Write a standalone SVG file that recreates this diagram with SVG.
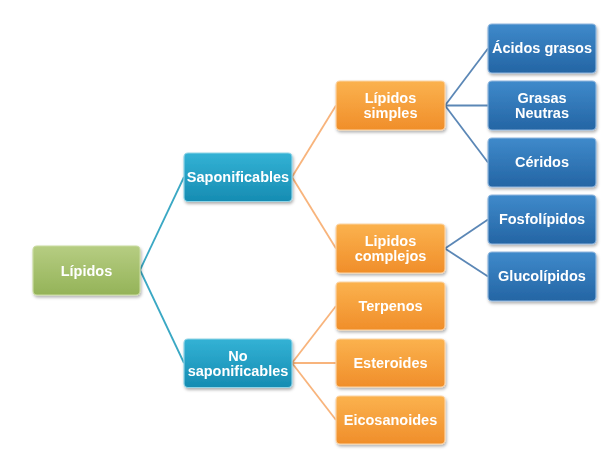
<svg xmlns="http://www.w3.org/2000/svg" width="614" height="460" viewBox="0 0 614 460">
<style>
text{font-family:"Liberation Sans",Arial,sans-serif;font-weight:bold;font-size:14.5px;fill:#ffffff;text-anchor:middle}
.box{stroke-width:1.2}
.g{fill:url(#gG);stroke:#c9dba0}
.t{fill:url(#gT);stroke:#8fd3e6}
.o{fill:url(#gO);stroke:#fcd3a4}
.b{fill:url(#gB);stroke:#8fb6dd}
.ct{stroke:#3aa8c4;stroke-width:1.8;fill:none}
.co{stroke:#f8b47c;stroke-width:1.8;fill:none}
.cb{stroke:#5b87b6;stroke-width:1.8;fill:none}
</style>
<defs>
<linearGradient id="gG" x1="0" y1="0" x2="0" y2="1"><stop offset="0" stop-color="#b6cd82"/><stop offset="1" stop-color="#94b358"/></linearGradient>
<linearGradient id="gT" x1="0" y1="0" x2="0" y2="1"><stop offset="0" stop-color="#33b2d5"/><stop offset="1" stop-color="#168cb2"/></linearGradient>
<linearGradient id="gO" x1="0" y1="0" x2="0" y2="1"><stop offset="0" stop-color="#fbb24e"/><stop offset="1" stop-color="#f08e2a"/></linearGradient>
<linearGradient id="gB" x1="0" y1="0" x2="0" y2="1"><stop offset="0" stop-color="#3f8acb"/><stop offset="1" stop-color="#2465a4"/></linearGradient>
<filter id="sh" x="-10%" y="-10%" width="125%" height="135%"><feDropShadow dx="1" dy="2" stdDeviation="1.5" flood-color="#000" flood-opacity="0.3"/></filter>
</defs>
<g id="connectors">
<path class="ct" d="M140,270 L184,177"/>
<path class="ct" d="M140,270 L184,363"/>
<path class="co" d="M292,177 L336,105.5"/>
<path class="co" d="M292,177 L336,248.5"/>
<path class="co" d="M292,363 L336,306"/>
<path class="co" d="M292,363 L336,363"/>
<path class="co" d="M292,363 L336,420"/>
<path class="cb" d="M445,105.5 L488,48.5"/>
<path class="cb" d="M445,105.5 L488,105.5"/>
<path class="cb" d="M445,105.5 L488,162.5"/>
<path class="cb" d="M445,248.5 L488,219.5"/>
<path class="cb" d="M445,248.5 L488,276.5"/>
</g>
<g id="lipidos" filter="url(#sh)"><rect class="box g" x="33" y="246" width="107" height="49" rx="4"/><text x="86.5" y="275.5">Lípidos</text></g>
<g id="saponificables" filter="url(#sh)"><rect class="box t" x="184" y="153" width="108" height="48.5" rx="4"/><text x="238" y="182">Saponificables</text></g>
<g id="no-saponificables" filter="url(#sh)"><rect class="box t" x="184" y="339" width="108" height="48.5" rx="4"/><text x="238" y="361">No<tspan x="238" dy="15">saponificables</tspan></text></g>
<g id="lipidos-simples" filter="url(#sh)"><rect class="box o" x="336" y="81" width="109" height="49" rx="4"/><text x="390.5" y="103">Lípidos<tspan x="390.5" dy="15">simples</tspan></text></g>
<g id="lipidos-complejos" filter="url(#sh)"><rect class="box o" x="336" y="224" width="109" height="49" rx="4"/><text x="390.5" y="246">Lipidos<tspan x="390.5" dy="15">complejos</tspan></text></g>
<g id="terpenos" filter="url(#sh)"><rect class="box o" x="336" y="282" width="109" height="48" rx="4"/><text x="390.5" y="310.5">Terpenos</text></g>
<g id="esteroides" filter="url(#sh)"><rect class="box o" x="336" y="339" width="109" height="48" rx="4"/><text x="390.5" y="367.5">Esteroides</text></g>
<g id="eicosanoides" filter="url(#sh)"><rect class="box o" x="336" y="396" width="109" height="48" rx="4"/><text x="390.5" y="424.5">Eicosanoides</text></g>
<g id="acidos-grasos" filter="url(#sh)"><rect class="box b" x="488" y="24" width="108" height="49" rx="4"/><text x="542" y="53">Ácidos grasos</text></g>
<g id="grasas-neutras" filter="url(#sh)"><rect class="box b" x="488" y="81" width="108" height="49" rx="4"/><text x="542" y="103">Grasas<tspan x="542" dy="15">Neutras</tspan></text></g>
<g id="ceridos" filter="url(#sh)"><rect class="box b" x="488" y="138" width="108" height="49" rx="4"/><text x="542" y="167">Céridos</text></g>
<g id="fosfolipidos" filter="url(#sh)"><rect class="box b" x="488" y="195" width="108" height="49" rx="4"/><text x="542" y="224">Fosfolípidos</text></g>
<g id="glucolipidos" filter="url(#sh)"><rect class="box b" x="488" y="252" width="108" height="49" rx="4"/><text x="542" y="281">Glucolípidos</text></g>
</svg>
